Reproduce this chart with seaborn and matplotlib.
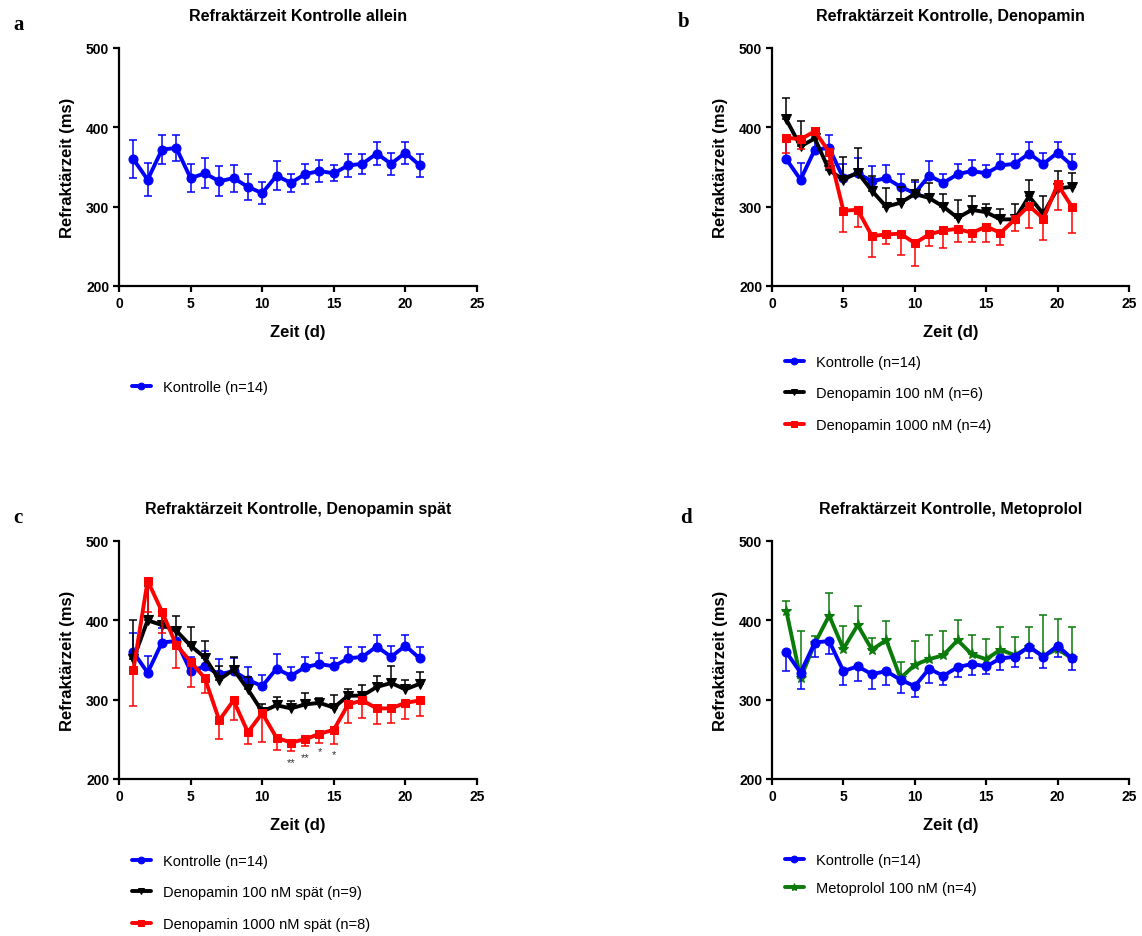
import numpy as np
import pandas as pd
import matplotlib
matplotlib.use("Agg")
import matplotlib.pyplot as plt
import seaborn as sns

# ---------------- data ----------------
days = list(range(1, 22))

ctrl_mean = [360, 334, 372, 374, 336, 342, 332, 336, 325, 317, 339, 330, 341, 345, 342, 352, 354, 367, 354, 368, 352]
ctrl_sem = [24, 21, 18, 16, 18, 19, 19, 17, 16, 14, 18, 11, 13, 14, 10, 15, 13, 14, 14, 14, 14]

deno100_mean = [410, 376, 386, 346, 334, 343, 320, 300, 305, 316, 311, 300, 286, 296, 293, 284, 284, 313, 291, 323, 325]
deno100_sem = [27, 32, 8, 12, 28, 31, 19, 23, 20, 17, 19, 16, 22, 17, 10, 13, 19, 20, 23, 22, 17]

deno1000_mean = [387, 385, 395, 369, 295, 296, 263, 265, 266, 254, 265, 270, 272, 267, 275, 267, 284, 301, 285, 328, 300]
deno1000_sem = [19, 12, 5, 20, 27, 22, 26, 12, 27, 29, 14, 22, 16, 12, 20, 15, 15, 28, 27, 32, 33]

deno100_late_mean = [351, 400, 394, 387, 368, 353, 325, 338, 313, 285, 293, 289, 294, 296, 290, 305, 305, 316, 321, 313, 320]
deno100_late_sem = [49, 43, 19, 19, 24, 21, 18, 16, 15, 10, 10, 9, 15, 6, 16, 8, 14, 14, 21, 12, 15]

deno1000_late_mean = [337, 450, 411, 369, 348, 327, 274, 299, 259, 283, 252, 246, 250, 257, 262, 294, 299, 289, 289, 296, 299]
deno1000_late_sem = [45, 40, 27, 29, 32, 19, 23, 24, 15, 36, 15, 11, 9, 11, 18, 23, 22, 20, 19, 20, 20]

meto_mean = [412, 327, 371, 406, 364, 394, 363, 375, 327, 344, 351, 356, 375, 357, 351, 363, 356, 366, 355, 364, 352]
meto_sem = [13, 60, 9, 28, 29, 24, 15, 24, 20, 30, 31, 30, 25, 24, 26, 29, 23, 26, 52, 38, 39]

sig_x = [12, 13, 14, 15]
sig_y = [221, 228, 235, 232]
sig_labels = ["**", "**", "*", "*"]

titles = ["Refraktärzeit Kontrolle allein",
          "Refraktärzeit Kontrolle, Denopamin",
          "Refraktärzeit Kontrolle, Denopamin spät",
          "Refraktärzeit Kontrolle, Metoprolol"]
panel_letters = ["a", "b", "c", "d"]
x_ticks = [0, 5, 10, 15, 20, 25]
y_ticks = [200, 300, 400, 500]

lbl_ctrl = "Kontrolle (n=14)"
lbl_d100 = "Denopamin 100 nM (n=6)"
lbl_d1000 = "Denopamin 1000 nM (n=4)"
lbl_d100l = "Denopamin 100 nM spät (n=9)"
lbl_d1000l = "Denopamin 1000 nM spät (n=8)"
lbl_meto = "Metoprolol 100 nM (n=4)"

# ---------------- style ----------------
sns.set_theme(style="ticks")
plt.rcParams['font.family'] = ['Liberation Sans', 'DejaVu Sans']
plt.rcParams['axes.linewidth'] = 1.6
for key in ['text.color', 'axes.labelcolor', 'xtick.color', 'ytick.color', 'axes.edgecolor']:
    plt.rcParams[key] = 'black'

BLUE = "#0000ff"
BLACK = "#000000"
RED = "#ff0000"
GREEN = "#0a7a0a"

fig = plt.figure(figsize=(11.42, 9.37), dpi=100)
W, H = 1142, 937

def make_ax(left, top, right, bottom):
    return fig.add_axes([left / W, 1 - bottom / H, (right - left) / W, (bottom - top) / H])

ax_a = make_ax(119, 49, 477, 287)
ax_b = make_ax(772, 49, 1129, 287)
ax_c = make_ax(119, 542, 477, 780)
ax_d = make_ax(772, 542, 1129, 780)
axes = [ax_a, ax_b, ax_c, ax_d]


def series(ax, mean, sem, color, marker, label, direction, ms=6.5, z=3):
    df = pd.DataFrame({"Zeit": days, "Wert": mean})
    sns.lineplot(data=df, x="Zeit", y="Wert", ax=ax, color=color, marker=marker,
                 markersize=ms, markeredgecolor=color, linewidth=2.8, label=label,
                 zorder=z, legend=False)
    sem = np.asarray(sem)
    zero = np.zeros_like(sem)
    if direction == "both":
        yerr = [sem, sem]
    elif direction == "up":
        yerr = [zero, sem]
    else:
        yerr = [sem, zero]
    ax.errorbar(days, mean, yerr=yerr, fmt="none", ecolor=color, elinewidth=1.1,
                capsize=3.2, capthick=1.1, zorder=z - 0.5)


series(ax_a, ctrl_mean, ctrl_sem, BLUE, "o", lbl_ctrl, "both")

series(ax_b, ctrl_mean, ctrl_sem, BLUE, "o", lbl_ctrl, "up", z=3)
series(ax_b, deno100_mean, deno100_sem, BLACK, "v", lbl_d100, "up", z=4)
series(ax_b, deno1000_mean, deno1000_sem, RED, "s", lbl_d1000, "down", ms=6, z=5)

series(ax_c, ctrl_mean, ctrl_sem, BLUE, "o", lbl_ctrl, "up", z=3)
series(ax_c, deno100_late_mean, deno100_late_sem, BLACK, "v", lbl_d100l, "up", z=4)
series(ax_c, deno1000_late_mean, deno1000_late_sem, RED, "s", lbl_d1000l, "down", ms=6, z=5)
for sx, sy, sl in zip(sig_x, sig_y, sig_labels):
    ax_c.text(sx, sy, sl, ha="center", va="center", fontsize=8, color="#333333")

series(ax_d, meto_mean, meto_sem, GREEN, "*", lbl_meto, "up", ms=8, z=3)
series(ax_d, ctrl_mean, ctrl_sem, BLUE, "o", lbl_ctrl, "down", z=4)

legend_y = {0: -0.37, 1: -0.265, 2: -0.29, 3: -0.285}
legend_sp = {0: 1.2, 1: 1.2, 2: 1.2, 3: 1.0}
for i, ax in enumerate(axes):
    ax.set_xlim(0, 25)
    ax.set_ylim(200, 500)
    ax.set_xticks(x_ticks)
    ax.set_yticks(y_ticks)
    ax.set_xticklabels([str(t) for t in x_ticks], fontweight="bold", fontsize=10)
    ax.set_yticklabels([str(t) for t in y_ticks], fontweight="bold", fontsize=10)
    ax.tick_params(axis="both", direction="out", length=4, width=1.6, color="black",
                   labelcolor="black", pad=3)
    sns.despine(ax=ax)
    ax.spines["left"].set_color("black")
    ax.spines["bottom"].set_color("black")
    ax.set_xlabel("Zeit (d)", fontweight="bold", fontsize=12, labelpad=10, color="black")
    ax.set_ylabel("Refraktärzeit (ms)", fontweight="bold", fontsize=12, labelpad=8, color="black")
    ax.set_title(titles[i], fontweight="bold", fontsize=11.5, pad=20, color="black")
    ax.grid(False)

    handles, labels = ax.get_legend_handles_labels()
    order = sorted(range(len(labels)), key=lambda k: 0 if labels[k] == lbl_ctrl else k + 1)
    handles = [handles[k] for k in order]
    labels = [labels[k] for k in order]
    leg = ax.legend(handles, labels, loc="upper left", bbox_to_anchor=(0.02, legend_y[i]),
                    frameon=False, fontsize=10.5, handlelength=1.3, labelspacing=legend_sp[i],
                    handletextpad=0.8, borderaxespad=0, markerscale=0.75)
    for t in leg.get_texts():
        t.set_color("black")

for letter, (px, py) in zip(panel_letters, [(13, 25), (678, 22), (13, 518), (680, 518)]):
    fig.text(px / W, 1 - py / H, letter, fontsize=15, fontweight="bold",
             family="Liberation Serif", va="center", color="black")

fig.savefig("out.png", dpi=100)
